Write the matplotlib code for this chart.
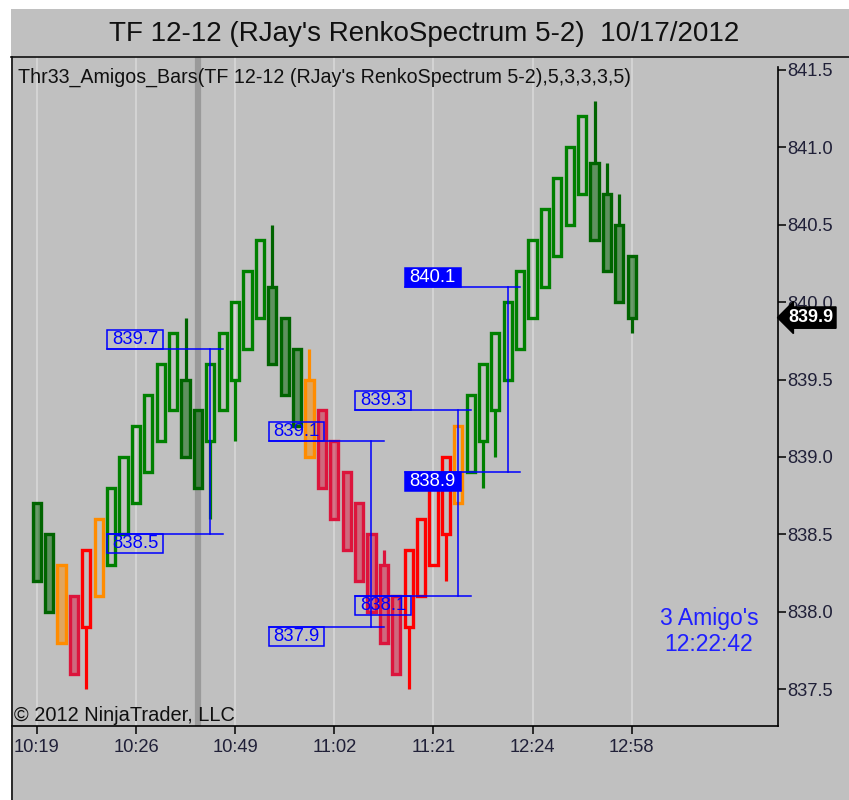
import matplotlib
matplotlib.use('Agg')
import matplotlib.pyplot as plt
from matplotlib.patches import Rectangle
from matplotlib.lines import Line2D
from matplotlib.colors import to_rgba

plt.rcParams['font.family'] = ['Liberation Sans', 'DejaVu Sans']

# renko bars: box top / bottom, bar type, wick extreme (None = no wick)
box_hi = [838.7, 838.5, 838.3, 838.1, 838.4, 838.6, 838.8, 839.0, 839.2, 839.4,
          839.6, 839.8, 839.5, 839.3, 839.6, 839.8, 840.0, 840.2, 840.4, 840.1,
          839.9, 839.7, 839.5, 839.3, 839.1, 838.9, 838.7, 838.5, 838.3, 838.1,
          838.4, 838.6, 838.8, 839.0, 839.2, 839.4, 839.6, 839.8, 840.0, 840.2,
          840.4, 840.6, 840.8, 841.0, 841.2, 840.9, 840.7, 840.5, 840.3]
box_lo = [838.2, 838.0, 837.8, 837.6, 837.9, 838.1, 838.3, 838.5, 838.7, 838.9,
          839.1, 839.3, 839.0, 838.8, 839.1, 839.3, 839.5, 839.7, 839.9, 839.6,
          839.4, 839.2, 839.0, 838.8, 838.6, 838.4, 838.2, 838.0, 837.8, 837.6,
          837.9, 838.1, 838.3, 838.5, 838.7, 838.9, 839.1, 839.3, 839.5, 839.7,
          839.9, 840.1, 840.3, 840.5, 840.7, 840.4, 840.2, 840.0, 839.9]
# g = green up, dg = dark green down, o = orange, c = crimson down, r = red up
bar_type = ['dg', 'dg', 'o', 'c', 'r', 'o', 'g', 'g', 'g', 'g',
            'g', 'g', 'dg', 'dg', 'g', 'g', 'g', 'g', 'g', 'dg',
            'dg', 'dg', 'o', 'c', 'c', 'c', 'c', 'c', 'c', 'c',
            'r', 'r', 'r', 'r', 'o', 'g', 'g', 'g', 'g', 'g',
            'g', 'g', 'g', 'g', 'g', 'dg', 'dg', 'dg', 'dg']
bar_down = [True, True, True, True, False, False, False, False, False, False,
            False, False, True, True, False, False, False, False, False, True,
            True, True, True, True, True, True, True, True, True, True,
            False, False, False, False, False, False, False, False, False, False,
            False, False, False, False, False, True, True, True, True]
wick_hi = {12: 839.9, 19: 840.5, 22: 839.7, 28: 838.4, 45: 841.3, 46: 840.9, 47: 840.7}
wick_lo = {4: 837.5, 14: 838.6, 16: 839.1, 30: 837.5, 33: 838.2, 36: 838.8, 37: 839.0,
           48: 839.8}

# amigo swings
swing_bar = [14, 27, 34, 38]
swing_high = [839.7, 839.1, 839.3, 840.1]
swing_low = [838.5, 837.9, 838.1, 838.9]
swing_active = [False, False, False, True]

time_ticks = [0, 8, 16, 24, 32, 40, 48]
time_labels = ['10:19', '10:26', '10:49', '11:02', '11:21', '12:24', '12:58']
price_ticks = [837.5, 838.0, 838.5, 839.0, 839.5, 840.0, 840.5, 841.0, 841.5]
last_price = 839.9
session_bar = 13

colors = {'g': '#008000', 'dg': '#006400', 'o': '#ff8c00', 'c': '#dc143c', 'r': '#ff0000'}
bg = '#c0c0c0'
blue = '#0000ff'

W, H = 849, 800
fig = plt.figure(figsize=(W / 100, H / 100), dpi=100, facecolor='white')
fig.patches.append(Rectangle((11 / W, 0), 1 - 11 / W, 1 - 9 / H, transform=fig.transFigure,
                             facecolor=bg, edgecolor='none', zorder=-10))
fig.lines.append(Line2D([11 / W, 1], [1 - 57 / H, 1 - 57 / H], transform=fig.transFigure,
                        color='#101010', lw=1.2))
fig.lines.append(Line2D([12 / W, 12 / W], [0, 1 - 57 / H], transform=fig.transFigure,
                        color='#101010', lw=1.2))
fig.text(0.5, 1 - 34 / H, "TF 12-12 (RJay's RenkoSpectrum 5-2)  10/17/2012",
         ha='center', va='center', fontsize=20, color='#101010')

ax = fig.add_axes([12 / W, (H - 726) / H, (778 - 12) / W, (726 - 57) / H])
ax.set_facecolor(bg)
ax.set_xlim(-2.0, 59.8)
ax.set_ylim(837.261, 841.584)

for t in time_ticks:
    ax.axvline(t, color='#d8d8d8', lw=1.2, zorder=0.2)
ax.axvline(session_bar, color='#9a9a9a', lw=4.5, zorder=0.3)

w = 0.66
for i in range(len(box_hi)):
    c = colors[bar_type[i]]
    if i in wick_hi:
        ax.plot([i, i], [box_hi[i], wick_hi[i]], color=c, lw=2.3, zorder=2,
                solid_capstyle='butt')
    if i in wick_lo:
        ax.plot([i, i], [wick_lo[i], box_lo[i]], color=c, lw=2.3, zorder=2,
                solid_capstyle='butt')
    fc = to_rgba(c, 0.5) if bar_down[i] else 'none'
    ax.add_patch(Rectangle((i - w / 2, box_lo[i]), w, box_hi[i] - box_lo[i],
                           facecolor=fc, edgecolor=c, lw=2.4, zorder=3))

lab_w = 4.5
lab_h = 0.123
for k, hi, lo, act in zip(swing_bar, swing_high, swing_low, swing_active):
    left = k - 8.3
    ax.plot([left, k + 1], [hi, hi], color=blue, lw=1.1, zorder=4)
    ax.plot([left, k + 1], [lo, lo], color=blue, lw=1.1, zorder=4)
    ax.plot([k, k], [lo, hi], color=blue, lw=1.1, zorder=4)
    for y0, val in [(hi, hi), (lo - lab_h, lo)]:
        ax.add_patch(Rectangle((left, y0), lab_w, lab_h,
                               facecolor=blue if act else 'none', edgecolor=blue,
                               lw=1.1, zorder=5))
        ax.text(left + lab_w / 2, y0 + lab_h / 2, '%.1f' % val, ha='center', va='center',
                fontsize=13.3, color='white' if act else blue, zorder=6)

ax.text(0.008, 0.969, "Thr33_Amigos_Bars(TF 12-12 (RJay's RenkoSpectrum 5-2),5,3,3,3,5)",
        transform=ax.transAxes, ha='left', va='center', fontsize=14.1, color='#101010',
        zorder=7)
ax.text(0.003, 0.015, '\u00a9 2012 NinjaTrader, LLC', transform=ax.transAxes,
        ha='left', va='center', fontsize=14.4, color='#101010', zorder=7)
ax.text(0.91, 0.141, "3 Amigo's\n12:22:42", transform=ax.transAxes, ha='center',
        va='center', fontsize=16.5, color='#2020ff', linespacing=1.2, zorder=7)

ax.set_xticks(time_ticks)
ax.set_xticklabels(time_labels)
ax.yaxis.tick_right()
ax.set_yticks(price_ticks)
ax.set_yticklabels(['%.1f' % p for p in price_ticks])
ax.tick_params(axis='both', direction='out', length=6, width=1.2, colors='#101010',
               labelsize=13.2, labelcolor='#202038')
ax.tick_params(axis='x', pad=3)
ax.tick_params(axis='y', pad=1)
for s in ['top', 'left']:
    ax.spines[s].set_visible(False)
ax.spines['bottom'].set_linewidth(1.2)
ax.spines['right'].set_linewidth(1.2)
ax.spines['right'].set_bounds(837.261, 841.52)

ax.text(1.014, last_price, '%.1f' % last_price, transform=ax.get_yaxis_transform(),
        ha='left', va='center', fontsize=13, color='white', fontweight='bold',
        bbox=dict(boxstyle='larrow,pad=0.12', facecolor='black', edgecolor='black'),
        zorder=10, clip_on=False)

fig.savefig('out.png', dpi=100, facecolor='white')
